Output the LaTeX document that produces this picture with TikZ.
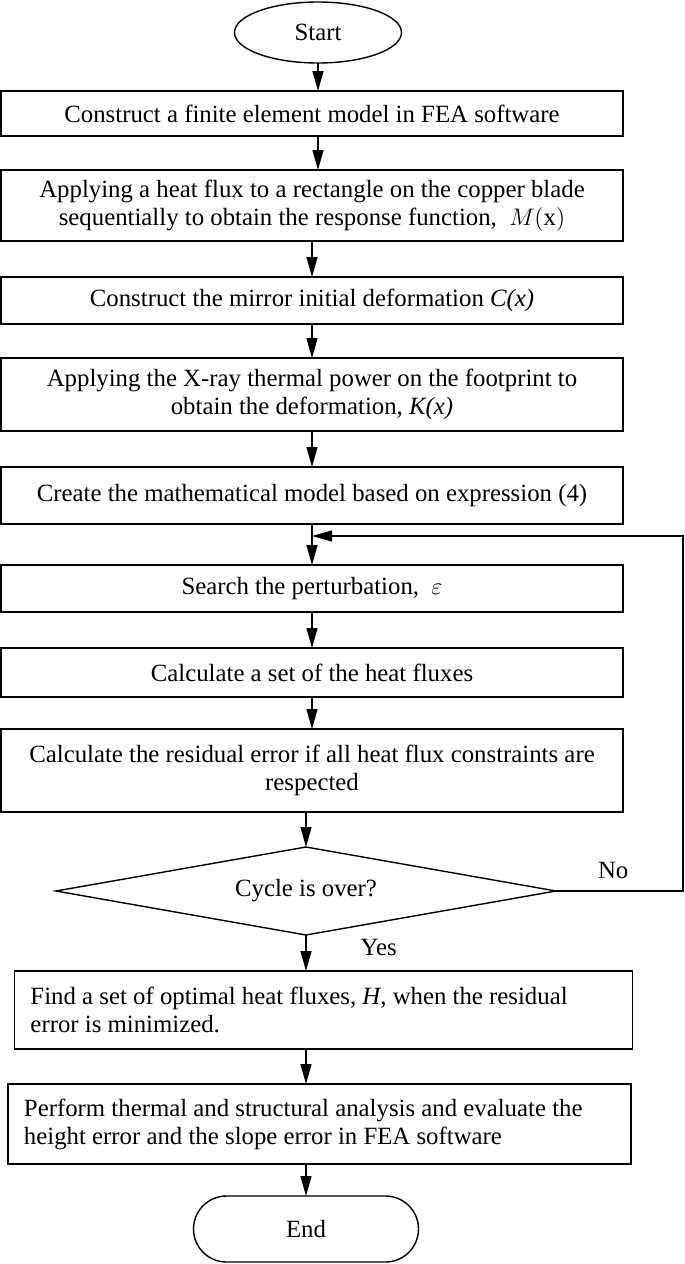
\documentclass[tikz,border=0pt]{standalone}
\usepackage{fontspec}
\setmainfont{Liberation Serif}
\usetikzlibrary{positioning,shapes.geometric,arrows.meta}

\begin{document}
\begin{tikzpicture}[>={Triangle[length=10pt,width=5.5pt]}, line width=0.7pt,
        every node/.style={font=\fontsize{12.4}{14}\selectfont, outer sep=0pt},
        box/.style={rectangle, draw, minimum width=311pt, align=center},
        leftbox/.style={rectangle, draw, align=flush left, inner xsep=8pt}]
                \useasboundingbox (0,0) rectangle (342.5pt,-632pt);

                \node[ellipse, draw, minimum width=83.5pt, minimum height=30.5pt, inner sep=0pt] (start) at (159pt,-16.25pt) {Start};
                \node[box, minimum height=22.5pt, below=14pt of start, xshift=-3pt] (model) {Construct a finite element model in FEA software};
                \node[box, minimum height=35.5pt, below=17pt of model] (flux) {Applying a heat flux to a rectangle on the copper blade\\ sequentially to obtain the response function,~ $M(\mathrm{x})$};
                \node[box, minimum height=23.5pt, below=18pt of flux] (mirror) {Construct the mirror initial deformation \textit{C(x)}};
                \node[box, minimum height=36.5pt, below=17pt of mirror] (xray) {Applying the X-ray thermal power on the footprint to\\ obtain the deformation, \textit{K(x)}};
                \node[box, minimum height=28.5pt, below=18pt of xray] (math) {Create the mathematical model based on expression (4)};
                \node[box, minimum height=23.5pt, below=20.5pt of math] (search) {Search the perturbation,~ $\varepsilon$};
                \node[box, minimum height=24.5pt, below=18pt of search] (calc) {Calculate a set of the heat fluxes};
                \node[box, minimum height=41.5pt, below=16pt of calc] (resid) {Calculate the residual error if all heat flux constraints are\\ respected};
                \node[diamond, draw, aspect=5.7, inner sep=0pt, minimum width=250pt, minimum height=44pt, below=17.5pt of resid, xshift=-3pt] (cycle) {Cycle is over?};
                \node[leftbox, text width=293pt, minimum height=39pt, below=18pt of cycle, xshift=8.75pt] (find) {Find a set of optimal heat fluxes, \textit{H}, when the residual\\ error is minimized.};
                \node[leftbox, text width=295.5pt, minimum height=40pt, below=17.5pt of find, xshift=-2pt] (fea) {Perform thermal and structural analysis and evaluate the\\ height error and the slope error in FEA software};
                \node[draw, rounded corners=16.5pt, minimum width=112.5pt, minimum height=33pt, below=16pt of fea, xshift=-6.75pt] (end) {End};

                \coordinate[below=6pt of math] (join);
                \coordinate (back) at (341.5pt,0);

                \path[->]
                    (start) edge (start |- model.north)
                    (model.south -| start) edge (flux.north -| start)
                    (flux) edge (mirror)
                    (mirror) edge (xray)
                    (xray) edge (math)
                    (math) edge (search)
                    (search) edge (calc)
                    (calc) edge (resid)
                    (resid.south -| cycle) edge (cycle)
                    (cycle) edge node[right=24pt, pos=0.36] {Yes} (cycle |- find.north)
                    (find.south -| cycle) edge (fea.north -| cycle)
                    (fea.south -| end) edge (end)
                    ;
                \draw[->] (cycle.east) -- node[above=3pt, pos=0.45] {No} (cycle.east -| back) |- (join);
            \end{tikzpicture}
\end{document}
